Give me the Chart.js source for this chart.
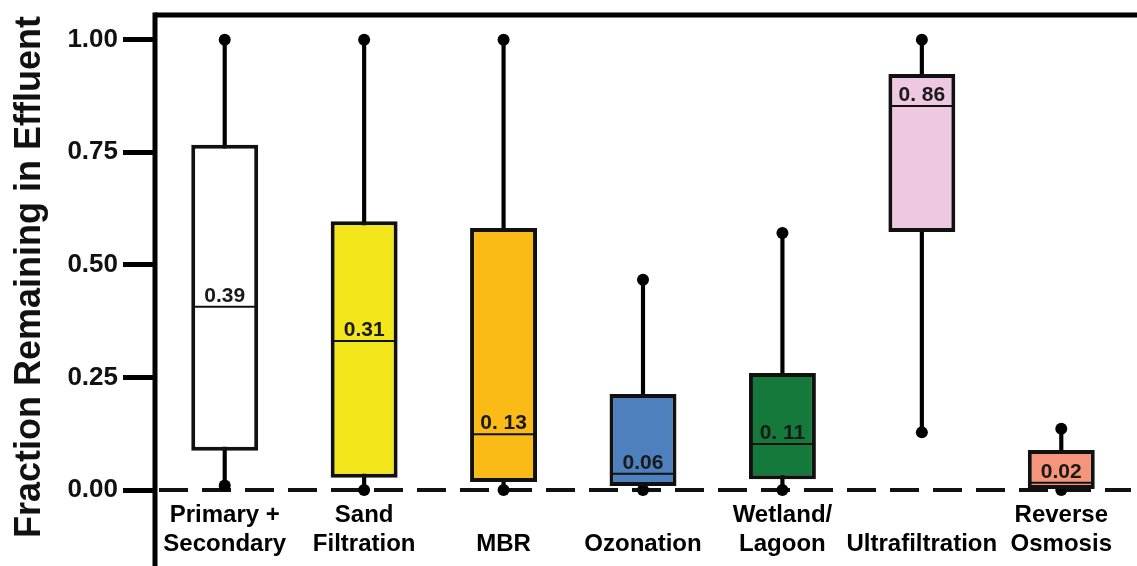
<!DOCTYPE html>
<html>
<head>
<meta charset="utf-8">
<script src="https://cdn.jsdelivr.net/npm/chart.js@4/dist/chart.umd.min.js"></script>
<style>
html,body{margin:0;padding:0;background:#fff;}
#wrap{width:1137px;height:566px;position:relative;}
</style>
</head>
<body>
<div id="wrap"><canvas id="boxChart"></canvas></div>
<script>
const categories=[
["Primary +","Secondary"],
["Sand","Filtration"],
["","MBR"],
["","Ozonation"],
["Wetland/","Lagoon"],
["","Ultrafiltration"],
["Reverse","Osmosis"]
];

const mins=[0.01,0,0,0,0,0.128,0];
const q1s=[0.087,0.027,0.018,0.009,0.024,0.573,0.002];
const medians=[0.407,0.331,0.124,0.036,0.102,0.853,0.016];
const q3s=[0.767,0.597,0.582,0.213,0.26,0.924,0.089];
const maxs=[1,1,1,0.467,0.571,1,0.136];
const medianLabels=["0.39","0.31","0. 13","0.06","0. 11","0. 86","0.02"];
const yTicks=[0,0.25,0.5,0.75,1];

const boxColors=["#ffffff","#f3e61b","#fbbb17","#4f80be","#14793a","#eec8e0","#f5967c"];

const FONT="'Liberation Sans', Arial, Helvetica, sans-serif";

// median lines, labels, frame and axis title
const boxExtras={
id:"boxExtras",
beforeDatasetsDraw(chart){
const ctx=chart.ctx;
const area=chart.chartArea;
const y0=chart.scales.y.getPixelForValue(0);
ctx.save();
ctx.strokeStyle="#111";
ctx.lineWidth=4;
ctx.setLineDash([29,14]);
ctx.beginPath();
ctx.moveTo(area.left+4,y0);
ctx.lineTo(area.right,y0);
ctx.stroke();
ctx.restore();
},
afterDatasetsDraw(chart){
const ctx=chart.ctx;
const yScale=chart.scales.y;
const meta=chart.getDatasetMeta(0);
ctx.save();
meta.data.forEach((bar,i)=>{
const p=bar.getProps(["x","width"],true);
const y=yScale.getPixelForValue(medians[i]);
const half=p.width/2-3;
ctx.strokeStyle="#111";
ctx.lineWidth=2;
ctx.beginPath();
ctx.moveTo(p.x-half,y);
ctx.lineTo(p.x+half,y);
ctx.stroke();
ctx.fillStyle="#1a1a1a";
ctx.font="bold 21px "+FONT;
ctx.textAlign="center";
ctx.textBaseline="alphabetic";
ctx.fillText(medianLabels[i],p.x,y-5);
});
ctx.restore();
},
afterDraw(chart){
const ctx=chart.ctx;
const area=chart.chartArea;
ctx.save();
ctx.strokeStyle="#000";
ctx.lineWidth=5;
ctx.beginPath();
ctx.moveTo(area.left,area.top);
ctx.lineTo(chart.width,area.top);
ctx.stroke();
ctx.beginPath();
ctx.moveTo(area.left,area.top-2.5);
ctx.lineTo(area.left,chart.height);
ctx.stroke();
ctx.translate(30,277);
ctx.rotate(-Math.PI/2);
ctx.fillStyle="#111";
ctx.font="bold 36px "+FONT;
ctx.textAlign="center";
ctx.textBaseline="middle";
ctx.fillText("Fraction Remaining in Effluent",0,0);
ctx.restore();
}
};

const boxData=q1s.map((q,i)=>[q,q3s[i]]);
const whiskerData=mins.map((m,i)=>[m,maxs[i]]);

new Chart(document.getElementById("boxChart"),{
type:"bar",
data:{
labels:categories,
datasets:[
{
label:"box",
data:boxData,
backgroundColor:boxColors,
borderColor:"#111",
borderWidth:4,
borderSkipped:false,
grouped:false,
categoryPercentage:1,
barPercentage:0.48,
order:1,
clip:false
},
{
label:"max",
type:"line",
data:maxs,
showLine:false,
pointRadius:6,
pointBackgroundColor:"#000",
pointBorderWidth:0,
order:2,
clip:false
},
{
label:"min",
type:"line",
data:mins,
showLine:false,
pointRadius:6,
pointBackgroundColor:"#000",
pointBorderWidth:0,
order:2,
clip:false
},
{
label:"whisker",
data:whiskerData,
backgroundColor:"#000",
borderWidth:0,
grouped:false,
barThickness:3.5,
order:3,
clip:false
}
]
},
options:{
responsive:true,
maintainAspectRatio:false,
animation:false,
layout:{padding:{top:15,left:0,right:0,bottom:0}},
plugins:{legend:{display:false},tooltip:{enabled:false}},
scales:{
x:{
grid:{display:false,drawTicks:false},
border:{display:false},
ticks:{
color:"#000",
padding:11,
maxRotation:0,
autoSkip:false,
font:{family:FONT,size:24,weight:"bold",lineHeight:1.2}
},
afterFit(s){s.height=76;}
},
y:{
min:0,
max:1.055,
afterBuildTicks(s){s.ticks=yTicks.map(v=>({value:v}));},
grid:{display:true,drawOnChartArea:false,drawTicks:true,tickLength:32,tickWidth:5,tickColor:"#000"},
border:{display:false},
ticks:{
color:"#111",
padding:5,
font:{family:FONT,size:26,weight:"bold",lineHeight:0.8},
callback:v=>v.toFixed(2)
},
afterFit(s){s.width=155;s.paddingTop=0;s.paddingBottom=0;}
}
}
},
plugins:[boxExtras]
});
</script>
</body>
</html>
